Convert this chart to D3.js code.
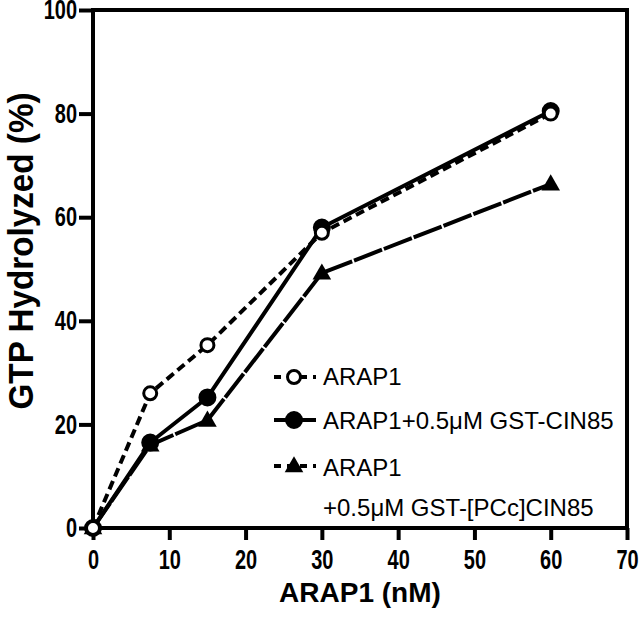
<!DOCTYPE html>
<meta charset="utf-8" />
<style>
    body { margin: 0; background: #fff; }
    text { font-family: "Liberation Sans", Arial, sans-serif; fill: #000; }
    .tick text { font-weight: bold; font-size: 27px; }
    .axis path, .axis line { stroke: #000; stroke-width: 4; }
</style>
<svg width="641" height="617"></svg>
<script src="https://d3js.org/d3.v7.min.js"></script>
<script>
    // concentrations (nM)
    const conc = [0, 7.5, 15, 30, 60];
    const arap1 = [0, 26, 35.3, 57, 80];
    const arap1Cin85 = [0, 16.5, 25.2, 58, 80.5];
    const arap1PCc = [0, 16, 20.8, 49.2, 66.4];
    const xTicks = [0, 10, 20, 30, 40, 50, 60, 70];
    const yTicks = [0, 20, 40, 60, 80, 100];

    const series = [
        { name: 'pcc', values: arap1PCc, dash: '30,2', marker: 'triangle', fill: '#000' },
        { name: 'cin85', values: arap1Cin85, dash: null, marker: 'circle', fill: '#000' },
        { name: 'arap1', values: arap1, dash: '9,5', marker: 'circle', fill: '#fff' },
    ];

    const svg = d3.select('svg');
    const plot = { left: 93, right: 627, top: 10, bottom: 528 };
    const squeeze = 0.74; // the tick font is a condensed bold

    const x = d3.scaleLinear().domain([0, 70]).range([plot.left, plot.right]);
    const y = d3.scaleLinear().domain([0, 100]).range([plot.bottom, plot.top]);

    // frame (left, top, right, bottom)
    svg.append('rect')
        .attr('x', plot.left).attr('y', plot.top)
        .attr('width', plot.right - plot.left).attr('height', plot.bottom - plot.top)
        .attr('fill', 'none').attr('stroke', '#000').attr('stroke-width', 4);

    const xAxis = svg.append('g')
        .attr('class', 'axis')
        .attr('transform', `translate(0,${plot.bottom})`)
        .call(d3.axisBottom(x).tickValues(xTicks).tickSize(12).tickSizeOuter(0));
    xAxis.select('.domain').remove();
    xAxis.selectAll('text')
        .attr('y', 41).attr('dy', null)
        .attr('transform', `scale(${squeeze},1)`);

    const yAxis = svg.append('g')
        .attr('class', 'axis')
        .attr('transform', `translate(${plot.left},0)`)
        .call(d3.axisLeft(y).tickValues(yTicks).tickSize(14).tickSizeOuter(0));
    yAxis.select('.domain').remove();
    yAxis.selectAll('text')
        .attr('x', -16 / squeeze)
        .attr('transform', `scale(${squeeze},1)`);

    svg.append('text')
        .attr('x', (plot.left + plot.right) / 2)
        .attr('y', 602)
        .attr('text-anchor', 'middle')
        .style('font-weight', 'bold')
        .style('font-size', '28px')
        .text('ARAP1 (nM)');

    svg.append('text')
        .attr('transform', 'translate(33,251) rotate(-90) scale(0.95,1)')
        .attr('text-anchor', 'middle')
        .style('font-weight', 'bold')
        .style('font-size', '35px')
        .text('GTP Hydrolyzed (%)');

    const line = d3.line().x((d, i) => x(conc[i])).y(d => y(d));
    const tri = d3.symbol().type(d3.symbolTriangle).size(150);

    function drawMarker(g, s, cx, cy) {
        if (s.marker === 'triangle') {
            g.append('path').attr('d', tri()).attr('transform', `translate(${cx},${cy + 1})`).attr('fill', '#000');
        } else {
            g.append('circle').attr('cx', cx).attr('cy', cy).attr('r', s.fill === '#fff' ? 6.5 : 7.5)
                .attr('fill', s.fill).attr('stroke', '#000').attr('stroke-width', 3);
        }
    }

    series.forEach(s => {
        svg.append('path')
            .datum(s.values)
            .attr('d', line)
            .attr('fill', 'none')
            .attr('stroke', '#000')
            .attr('stroke-width', 4)
            .attr('stroke-dasharray', s.dash);
    });
    series.forEach(s => {
        const g = svg.append('g');
        s.values.forEach((v, i) => drawMarker(g, s, x(conc[i]), y(v)));
    });

    // legend
    const legend = [
        { s: series[2], dash: '7,6', y: 377, base: [385] , lines: ['ARAP1'] },
        { s: series[1], dash: null, y: 420, base: [429], lines: ['ARAP1+0.5\u03bcM GST-CIN85'] },
        { s: series[0], dash: '7,6', y: 466, base: [476, 516], lines: ['ARAP1', '+0.5\u03bcM GST-[PCc]CIN85'] },
    ];
    legend.forEach(l => {
        const g = svg.append('g');
        g.append('line')
            .attr('x1', 274).attr('x2', 316).attr('y1', l.y).attr('y2', l.y)
            .attr('stroke', '#000').attr('stroke-width', 4)
            .attr('stroke-dasharray', l.dash);
        drawMarker(g, l.s, 294, l.y);
        l.lines.forEach((t, j) => {
            g.append('text')
                .attr('x', 323)
                .attr('y', l.base[j])
                .style('font-size', '24px')
                .text(t);
        });
    });
</script>
